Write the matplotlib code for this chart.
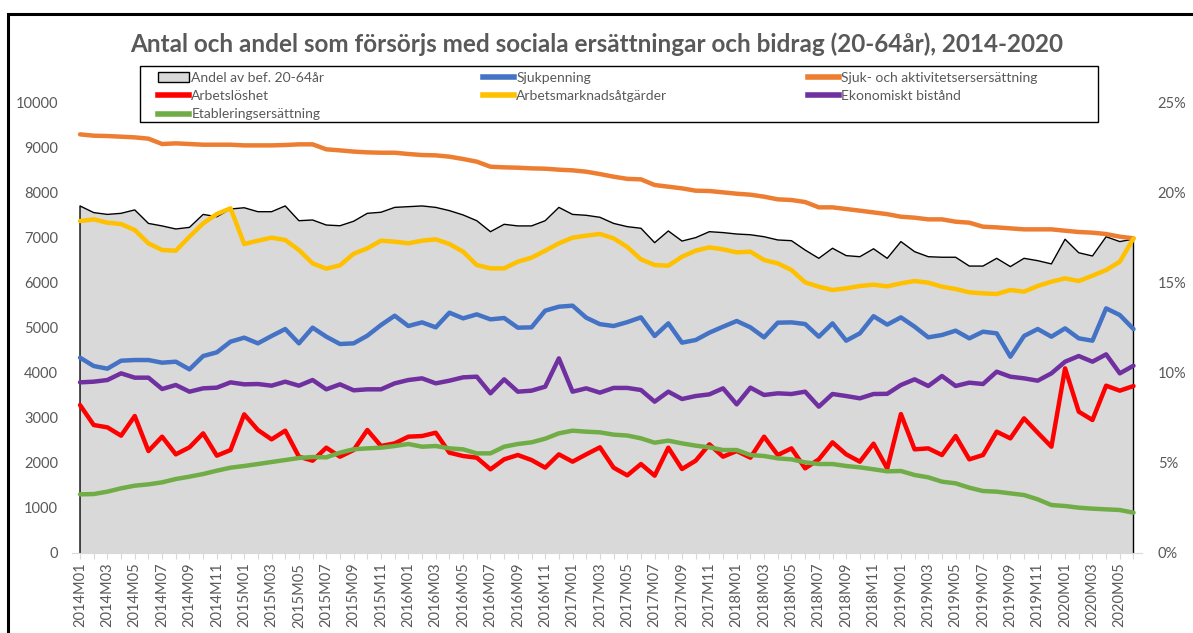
import matplotlib
matplotlib.use("Agg")
import matplotlib.pyplot as plt
from matplotlib.patches import Rectangle, Patch
from matplotlib.lines import Line2D
from matplotlib.ticker import FuncFormatter

# monthly labels 2014M01 .. 2020M06
months = [f"{y}M{m:02d}" for y in range(2014, 2021) for m in range(1, 13)][:78]

# share of population 20-64 (right axis, percent)
andel = [19.28, 18.91, 18.81, 18.87, 19.06, 18.31, 18.17, 18.00, 18.09, 18.81,
         18.68, 19.11, 19.18, 18.96, 18.96, 19.28, 18.46, 18.50, 18.22, 18.18,
         18.43, 18.87, 18.93, 19.20, 19.24, 19.28, 19.20, 19.02, 18.78, 18.46,
         17.85, 18.26, 18.17, 18.17, 18.46, 19.20, 18.81, 18.76, 18.65, 18.31,
         18.13, 18.04, 17.24, 17.89, 17.33, 17.52, 17.85, 17.80, 17.72, 17.68,
         17.57, 17.39, 17.35, 16.83, 16.37, 16.93, 16.52, 16.46, 16.90, 16.37,
         17.30, 16.74, 16.46, 16.43, 16.43, 15.94, 15.94, 16.37, 15.91, 16.37,
         16.24, 16.06, 17.43, 16.68, 16.50, 17.57, 17.30, 17.44]

sjuk_akt = [9303, 9273, 9266, 9251, 9236, 9207, 9088, 9103, 9088, 9073,
            9073, 9073, 9058, 9058, 9058, 9066, 9081, 9081, 8970, 8947,
            8920, 8903, 8895, 8895, 8866, 8844, 8836, 8807, 8755, 8696,
            8584, 8570, 8562, 8547, 8540, 8518, 8503, 8473, 8421, 8362,
            8314, 8303, 8177, 8140, 8103, 8051, 8044, 8014, 7984, 7962,
            7918, 7859, 7844, 7799, 7681, 7681, 7644, 7607, 7568, 7530,
            7473, 7451, 7414, 7414, 7362, 7340, 7251, 7236, 7214, 7192,
            7192, 7192, 7162, 7133, 7118, 7088, 7029, 6992]

atgarder = [7377, 7414, 7340, 7310, 7177, 6881, 6733, 6718, 7029, 7325,
            7533, 7660, 6866, 6940, 7007, 6955, 6733, 6436, 6318, 6392,
            6650, 6770, 6940, 6918, 6881, 6940, 6970, 6866, 6696, 6399,
            6325, 6325, 6473, 6562, 6718, 6881, 7007, 7051, 7090, 6992,
            6800, 6525, 6399, 6385, 6584, 6718, 6792, 6747, 6681, 6696,
            6510, 6436, 6288, 6014, 5918, 5844, 5881, 5933, 5962, 5925,
            5992, 6044, 6007, 5918, 5866, 5792, 5770, 5755, 5844, 5807,
            5933, 6029, 6103, 6044, 6162, 6288, 6473, 6992]

sjukpenning = [4340, 4155, 4096, 4273, 4288, 4288, 4229, 4251, 4081, 4377,
               4459, 4696, 4785, 4659, 4822, 4977, 4659, 5007, 4807, 4644,
               4659, 4829, 5066, 5273, 5044, 5125, 5014, 5340, 5214, 5303,
               5192, 5222, 5007, 5014, 5385, 5473, 5496, 5229, 5085, 5044,
               5130, 5236, 4822, 5103, 4674, 4733, 4896, 5029, 5155, 5014,
               4792, 5118, 5125, 5088, 4807, 5103, 4718, 4881, 5262, 5075,
               5236, 5029, 4792, 4844, 4940, 4770, 4918, 4881, 4362, 4822,
               4977, 4807, 4992, 4770, 4718, 5436, 5288, 4977]

bistand = [3792, 3807, 3844, 3992, 3896, 3896, 3644, 3733, 3585, 3659,
           3674, 3792, 3748, 3755, 3718, 3807, 3718, 3844, 3637, 3748,
           3615, 3637, 3637, 3770, 3844, 3881, 3770, 3829, 3903, 3918,
           3548, 3859, 3585, 3607, 3696, 4325, 3585, 3659, 3563, 3668,
           3668, 3622, 3363, 3585, 3422, 3488, 3525, 3659, 3303, 3674,
           3511, 3548, 3533, 3585, 3252, 3533, 3488, 3437, 3533, 3537,
           3733, 3859, 3711, 3933, 3711, 3785, 3755, 4029, 3918, 3881,
           3829, 3992, 4251, 4377, 4251, 4414, 3992, 4162]

arbetsloshet = [3288, 2844, 2792, 2607, 3044, 2266, 2585, 2192, 2348, 2659,
                2163, 2288, 3081, 2733, 2525, 2718, 2140, 2051, 2340, 2140,
                2288, 2733, 2377, 2436, 2585, 2599, 2673, 2229, 2155, 2118,
                1859, 2081, 2177, 2066, 1896, 2192, 2029, 2192, 2348, 1896,
                1725, 1977, 1718, 2340, 1866, 2051, 2414, 2140, 2266, 2118,
                2585, 2177, 2325, 1881, 2081, 2459, 2192, 2029, 2429, 1878,
                3088, 2303, 2325, 2177, 2599, 2081, 2177, 2696, 2547, 2992,
                2673, 2362, 4103, 3140, 2955, 3718, 3607, 3710]

etablering = [1303, 1310, 1363, 1437, 1496, 1525, 1570, 1644, 1696, 1755,
              1829, 1896, 1933, 1977, 2022, 2066, 2111, 2133, 2125, 2229,
              2305, 2325, 2340, 2377, 2422, 2362, 2377, 2325, 2303, 2214,
              2214, 2362, 2422, 2459, 2540, 2659, 2718, 2696, 2681, 2630,
              2610, 2548, 2451, 2496, 2436, 2385, 2348, 2288, 2288, 2177,
              2155, 2103, 2081, 2014, 1977, 1977, 1933, 1903, 1860, 1815,
              1822, 1733, 1681, 1585, 1548, 1451, 1377, 1363, 1325, 1288,
              1192, 1066, 1044, 1007, 985, 970, 955, 896]

series = [
    ("Sjukpenning", sjukpenning, "#4472C4"),
    ("Sjuk- och aktivitetsersersättning", sjuk_akt, "#ED7D31"),
    ("Arbetslöshet", arbetsloshet, "#FF0000"),
    ("Arbetsmarknadsåtgärder", atgarder, "#FFC000"),
    ("Ekonomiskt bistånd", bistand, "#7030A0"),
    ("Etableringsersättning", etablering, "#70AD47"),
]

plt.rcParams['font.family'] = ['Lato', 'DejaVu Sans']
txt_color = "#595959"

fig = plt.figure(figsize=(11.93, 6.33), dpi=100)
x = list(range(len(months)))

# axes: area on ax2 (right, %), lines on ax (left)
ax = fig.add_axes([0.0602, 0.1264, 0.8968, 0.7109])
ax2 = ax.twinx()
ax.set_zorder(ax2.get_zorder() + 1)
ax.patch.set_visible(False)

ax2.fill_between(x, andel, 0, color="#D9D9D9", lw=0)
ax2.plot([0] + x + [x[-1]], [0] + andel + [0], color="black", lw=1.0)
ax2.set_ylim(0, 25)
ax2.set_yticks([0, 5, 10, 15, 20, 25])
ax2.yaxis.set_major_formatter(FuncFormatter(lambda v, p: f"{v:.0f}%"))

for name, vals, col in series:
    ax.plot(x, vals, color=col, lw=3.2, solid_capstyle="round", solid_joinstyle="round")

ax.set_ylim(0, 10000)
ax.set_yticks(range(0, 10001, 1000))
ax.set_xlim(-0.6, 77.6)
ax.set_xticks(x)
ax.set_xticklabels([m if i % 2 == 0 else "" for i, m in enumerate(months)],
                   rotation=90, fontsize=10.5, color=txt_color)
ax.tick_params(axis="x", length=4, color="#D9D9D9", pad=3)
ax.tick_params(axis="y", length=0, labelsize=10.5, labelcolor=txt_color, pad=10)
ax2.tick_params(axis="y", length=0, labelsize=10.5, labelcolor=txt_color, pad=11.5)
for a in (ax, ax2):
    for s in a.spines.values():
        s.set_visible(False)
ax.spines["bottom"].set_visible(True)
ax.spines["bottom"].set_color("#D9D9D9")

fig.text(0.5, 0.93, "Antal och andel som försörjs med sociala ersättningar och bidrag (20-64år), 2014-2020",
         ha="center", va="center", fontsize=17.5, fontweight="bold", color=txt_color)

# legend: three columns, each its own legend so columns sit where Excel put them
cols = [
    ([Patch(facecolor="#D9D9D9", edgecolor="black", lw=1.0),
      Line2D([], [], color="#FF0000", lw=4),
      Line2D([], [], color="#70AD47", lw=4)],
     ["Andel av bef. 20-64år", "Arbetslöshet", "Etableringsersättning"], 158),
    ([Line2D([], [], color="#4472C4", lw=4),
      Line2D([], [], color="#FFC000", lw=4)],
     ["Sjukpenning", "Arbetsmarknadsåtgärder"], 483),
    ([Line2D([], [], color="#ED7D31", lw=4),
      Line2D([], [], color="#7030A0", lw=4)],
     ["Sjuk- och aktivitetsersersättning", "Ekonomiskt bistånd"], 808),
]
for hs, ls, xpx in cols:
    leg = fig.legend(hs, ls, loc="upper left", bbox_to_anchor=(xpx / 1193, 1 - 72 / 633),
                     bbox_transform=fig.transFigure, fontsize=10, frameon=False,
                     handlelength=2.2, handletextpad=0.2, labelspacing=0.45,
                     borderpad=0, borderaxespad=0)
    for t in leg.get_texts():
        t.set_color(txt_color)
fig.patches.append(Rectangle((140 / 1193, 1 - 122 / 633), (1098 - 140) / 1193, 56 / 633,
                             transform=fig.transFigure, fill=False,
                             edgecolor="black", lw=1.0))

# outer chart frame
fig.patches.append(Rectangle((0.0067, -0.05), 1.05, 0.05 + 1 - 14 / 633,
                             transform=fig.transFigure, fill=False,
                             edgecolor="black", lw=2.2))

fig.savefig("out.png", dpi=100)
